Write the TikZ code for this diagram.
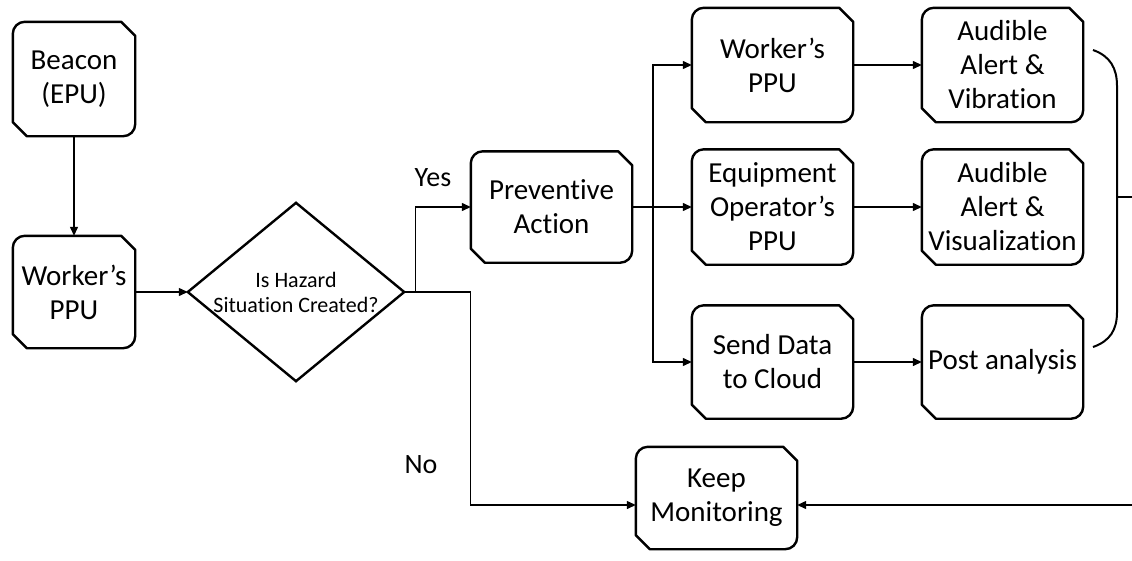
\documentclass[tikz,border=0pt]{standalone}
\usepackage{fontspec}
\setmainfont{Carlito}[Ligatures=NoCommon]
\usetikzlibrary{arrows.meta}
\newcommand\drawsnip[1]{\draw[border] ([xshift=-14pt]#1.north east) -- ([xshift=12pt]#1.north west) arc[start angle=90,end angle=180,radius=12pt] -- ([yshift=14pt]#1.south west) -- ([xshift=14pt]#1.south west) -- ([xshift=-12pt]#1.south east) arc[start angle=270,end angle=360,radius=12pt] -- ([yshift=-14pt]#1.north east) -- cycle;}
\begin{document}
\begin{tikzpicture}[x=1pt,y=1pt,
  box/.style={inner sep=0pt, align=center, font=\fontsize{29}{34}\selectfont, minimum width=161pt},
  lbl/.style={inner sep=0pt, font=\fontsize{28}{33}\selectfont},
  conn/.style={line width=1.3pt, -{Triangle[length=9pt,width=8pt]}},
  plain/.style={line width=1.3pt},
  border/.style={line width=2.4pt, line join=round}
]
\useasboundingbox[fill=white] (0,0) rectangle (1132,-560);

% left column
\node[box, minimum width=122pt, minimum height=114pt] (beacon) at (74,-79) {Beacon\\(EPU)};
\node[box, minimum width=122pt, minimum height=112pt] (wppu1) at (74,-292) {Worker’s\\PPU};

% decision
\node[inner sep=0pt, minimum width=216pt, minimum height=178pt, align=center,
      font=\fontsize{22}{25}\selectfont] (d) at (296,-292) {Is Hazard\\Situation Created?};
\draw[border, line join=miter] (d.north) -- (d.east) -- (d.south) -- (d.west) -- cycle;

% preventive
\node[box, minimum height=111pt] (prev) at (551.5,-207) {Preventive\\Action};

% middle column
\node[box, minimum height=114pt] (wppu2) at (772.5,-65) {Worker’s\\PPU};
\node[box, minimum height=115pt] (equip) at (772.5,-207) {Equipment\\Operator’s\\PPU};
\node[box, minimum height=113pt] (send) at (772.5,-362) {Send Data\\to Cloud};

% right column
\node[box, minimum height=114pt] (alert1) at (1002.5,-65) {Audible\\Alert \&\\Vibration};
\node[box, minimum height=115pt] (alert2) at (1002.5,-207) {Audible\\Alert \&\\Visualization};
\node[box, minimum height=113pt] (post) at (1002.5,-362) {Post analysis};

% keep monitoring
\node[box, minimum height=102pt] (keep) at (716.5,-498) {Keep\\Monitoring};

\foreach \n in {beacon,wppu1,prev,wppu2,equip,send,alert1,alert2,post,keep} {\drawsnip{\n}}

% labels
\node[lbl] (yes) at (433,-178) {Yes};
\node[lbl] (no) at (421,-465) {No};

% connectors
\draw[conn] (beacon.south) -- (wppu1.north);
\draw[conn] (wppu1.east) -- (d.west);
\draw[conn] (d.east) -- ++(11pt,0) |- (prev.west);
\coordinate (keepin) at ([yshift=-7pt]keep.west);
\draw[conn] (d.east) -- ++(66pt,0) |- (keepin);

\coordinate (bus) at (653,-207);
\draw[plain] (prev.east) -- (bus);
\draw[conn] (bus) |- (wppu2.west);
\draw[conn] (bus) -- (equip.west);
\draw[conn] (bus) |- (send.west);

\draw[conn] (wppu2.east) -- (alert1.west);
\draw[conn] (equip.east) -- (alert2.west);
\draw[conn] (send.east) -- (post.west);

% brace
\draw[line width=2pt] (1093,-50) .. controls (1110,-56) and (1117,-68) .. (1117,-86) -- (1117,-312) .. controls (1117,-330) and (1110,-341) .. (1093,-347);
\coordinate (tick) at (1117,-197);
\coordinate (edge1) at (1132,-197);
\draw[plain] (tick) -- (edge1);
\coordinate (edge2) at (1132,-505);
\draw[conn] (edge2) -- (keepin -| keep.east);
\end{tikzpicture}
\end{document}
